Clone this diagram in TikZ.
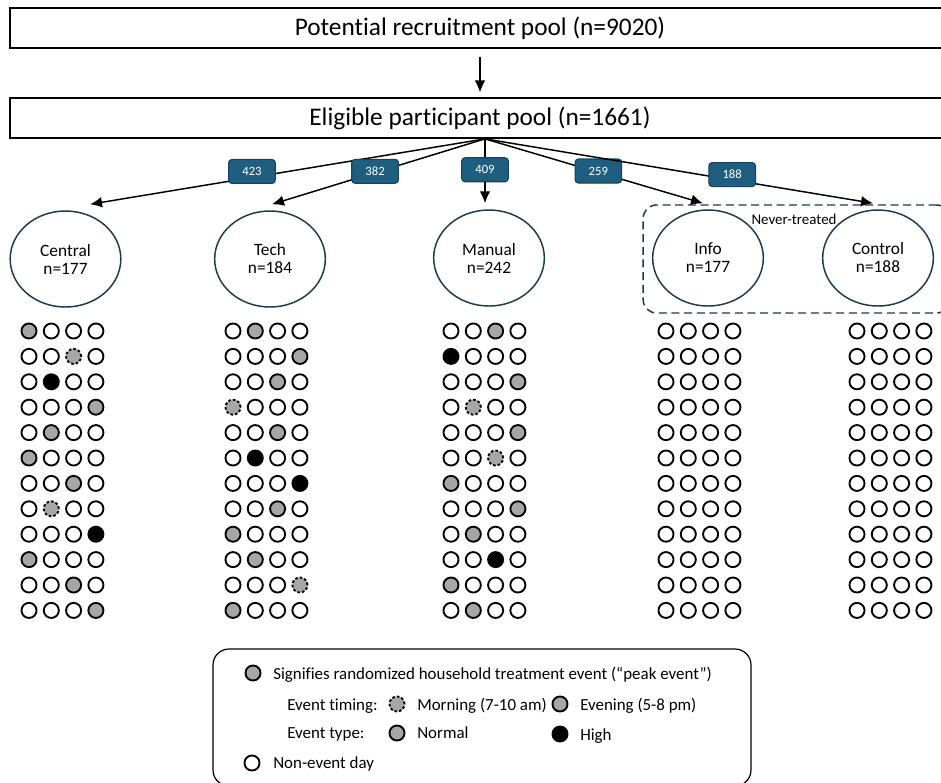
\documentclass[tikz,border=0pt]{standalone}
\usepackage{fontspec}
\setmainfont{Carlito}[RawFeature={-liga;-calt;-clig;-dlig}]
\usetikzlibrary{shapes.geometric,arrows.meta,positioning}

\definecolor{navyline}{HTML}{1B3A4C}
\definecolor{tagfill}{HTML}{1F5E7F}
\definecolor{tagdraw}{HTML}{16435B}
\definecolor{eventgray}{HTML}{A6A6A6}

\tikzset{
  poolbox/.style={draw=black, line width=1.3pt, minimum width=705pt, minimum height=30pt, inner sep=0pt, font=\fontsize{19}{22}\selectfont},
  group/.style={ellipse, draw=navyline, line width=1.1pt, minimum width=83pt, minimum height=72pt, inner sep=0pt, align=center, font=\fontsize{13}{13.5}\selectfont},
  tag/.style={draw=tagdraw, fill=tagfill, rounded corners=2.5pt, line width=0.8pt, minimum width=35pt, minimum height=18pt, inner sep=0pt, text=white, font=\fontsize{9.5}{10}\selectfont},
  flow/.style={line width=1.1pt, -{Latex[length=9pt,width=8pt]}},
  day/.style={circle, draw=black, line width=1.4pt, minimum size=11.3pt, inner sep=0pt},
  day0/.style={day, fill=white},
  day1/.style={day, fill=eventgray},
  day2/.style={day, fill=eventgray, dash pattern=on 2pt off 1.5pt},
  day3/.style={day, fill=black},
  legtext/.style={anchor=base west, inner sep=0pt, font=\fontsize{12.7}{14}\selectfont},
}

% one column of days per arm: 0 none, 1 evening, 2 morning, 3 high
\newcommand\daygrid[3]{%
  \foreach \row [count=\r] in {#3} {
    \foreach \d [count=\k] in \row {
      \node[day\d] (#1-\r-\k) at (#2+22.3*\k-22.3, 331+25.4*\r-25.4) {};
    }
  }%
}

\begin{document}
\begin{tikzpicture}[x=0.75pt, y=-0.75pt]
  \useasboundingbox (0,0) rectangle (941,782);

  % pools
  \node[poolbox] (pool) at (480,28) {Potential recruitment pool (n=9020)};
  \node[poolbox] (elig) at (480,118) {Eligible participant pool (n=1661)};
  \draw[flow, shorten <=6pt, shorten >=3.5pt] (pool) -- (elig);

  % arms
  \node[group] (central) at (65.5,259) {Central\\n=177};
  \node[group] (tech) at (270,259) {Tech\\n=184};
  \node[group] (manual) at (489,258) {Manual\\n=242};
  \node[group] (info) at (708,258) {Info\\n=177};
  \node[group] (control) at (878,258) {Control\\n=188};

  \node[draw=navyline, line width=1.1pt, dash pattern=on 6pt off 3.5pt, rounded corners=10pt,
        minimum width=230pt, minimum height=81pt] (never) at (796.5,259) {};
  \node[inner sep=0pt, font=\fontsize{11.2}{12}\selectfont] (nevertxt) at (794,219) {Never-treated};

  % split
  \coordinate (split) at ([xshift=3.75pt]elig.south);
  \draw[flow] (split) -- ([xshift=18.4pt,yshift=4.5pt]central.north) node[tag, pos=0.59, yshift=4.5pt] {423};
  \draw[flow] (split) -- ([xshift=1.5pt,yshift=4.5pt]tech.north) node[tag, pos=0.516, yshift=1pt] {382};
  \draw[flow] (split) -- ([xshift=-3pt,yshift=4.5pt]manual.north) node[tag, pos=0.48] {409};
  \draw[flow] (split) -- ([xshift=-3.75pt,yshift=4.5pt]info.north) node[tag, pos=0.52, yshift=1pt] {259};
  \draw[flow] (split) -- ([xshift=-3.75pt,yshift=4.5pt]control.north) node[tag, pos=0.637, yshift=4pt] {188};

  % event days
  \daygrid{central}{29}{{1,0,0,0},{0,0,2,0},{0,3,0,0},{0,0,0,1},{0,1,0,0},{1,0,0,0},
    {0,0,1,0},{0,2,0,0},{0,0,0,3},{1,0,0,0},{0,0,1,0},{0,0,0,1}}
  \daygrid{tech}{233}{{0,1,0,0},{0,0,0,1},{0,0,1,0},{2,0,0,0},{0,0,1,0},{0,3,0,0},
    {0,0,0,3},{0,0,1,0},{1,0,0,0},{0,1,0,0},{0,0,0,2},{1,0,0,0}}
  \daygrid{manual}{451}{{0,0,1,0},{3,0,0,0},{0,0,0,1},{0,2,0,0},{0,0,0,1},{0,0,2,0},
    {1,0,0,0},{0,0,0,1},{0,1,0,0},{0,0,3,0},{1,0,0,0},{0,1,0,0}}
  \foreach \grp/\xa in {info/666, control/857}
    \foreach \r in {1,...,12}
      \foreach \k in {1,...,4}
        \node[day0] (\grp-\r-\k) at (\xa+22.3*\k-22.3, 331+25.4*\r-25.4) {};

  % legend
  \node[draw=black, line width=0.9pt, rounded corners=12pt, minimum width=403.5pt, minimum height=102.75pt] (legend) at (482,717.5) {};
  \node[day1] (legpeak) at (253,673) {};
  \node[legtext] (legpeaktxt) at (273,679) {Signifies randomized household treatment event (“peak event”)};
  \node[legtext] (timingtxt) at (287,710) {Event timing:};
  \node[day2] (legmorning) at (397,704) {};
  \node[legtext] (morningtxt) at (417,710) {Morning (7-10 am)};
  \node[day1] (legevening) at (560,704) {};
  \node[legtext] (eveningtxt) at (580,710) {Evening (5-8 pm)};
  \node[legtext] (typetxt) at (287,738) {Event type:};
  \node[day1] (legnormal) at (397,733) {};
  \node[legtext] (normaltxt) at (417,738) {Normal};
  \node[day3] (leghigh) at (560,734) {};
  \node[legtext] (hightxt) at (580,740) {High};
  \node[day0] (legnone) at (252,763) {};
  \node[legtext] (nonetxt) at (273,768) {Non-event day};
\end{tikzpicture}
\end{document}
